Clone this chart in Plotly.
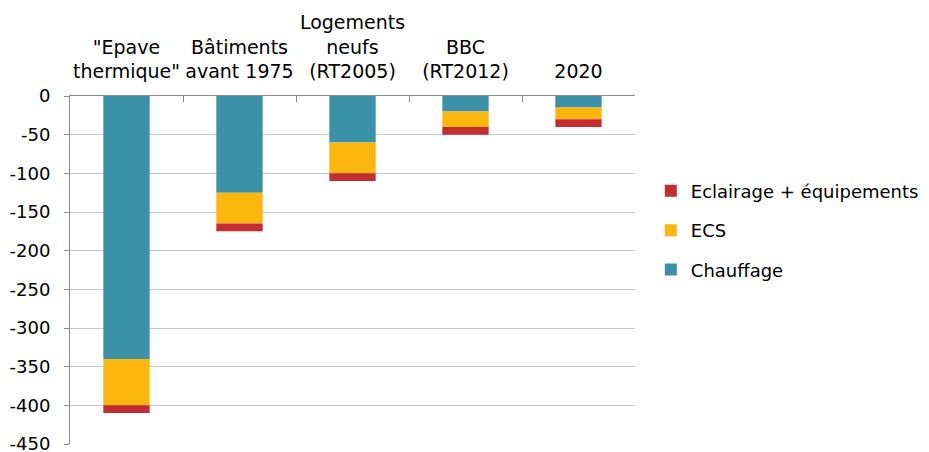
import plotly.graph_objects as go

categories = ['"Epave<br>thermique"', "Bâtiments<br>avant 1975", "Logements<br>neufs<br>(RT2005)", "BBC<br>(RT2012)", "2020"]
chauffage = [-340, -125, -60, -20, -15]
ecs = [-60, -40, -40, -20, -15]
eclairage = [-10, -10, -10, -10, -10]
ytick_vals = [0, -50, -100, -150, -200, -250, -300, -350, -400, -450]
ytick_text = [str(v) for v in ytick_vals]

FONT = "DejaVu Sans"

fig = go.Figure()
fig.add_trace(go.Bar(x=categories, y=chauffage, name="Chauffage", legendgroup="c", legendrank=3,
                     marker=dict(color="#3A91A8", line=dict(width=0))))
fig.add_trace(go.Bar(x=categories, y=ecs, name="ECS", legendgroup="e", legendrank=2,
                     marker=dict(color="#FDB60D", line=dict(width=0))))
fig.add_trace(go.Bar(x=categories, y=eclairage, name="Eclairage + équipements", legendgroup="l", legendrank=1,
                     marker=dict(color="#C42D30", line=dict(width=0))))

fig.update_layout(
    barmode="relative",
    bargap=0.59,
    width=929, height=452,
    margin=dict(l=70, r=294, t=96, b=8, autoexpand=False),
    paper_bgcolor="white", plot_bgcolor="white",
    font=dict(family=FONT, size=18, color="black"),
    showlegend=True,
    legend=dict(traceorder="grouped", x=1.028, y=0.78, xanchor="left", yanchor="top",
                font=dict(size=18), tracegroupgap=13, itemsizing="constant"),
    xaxis=dict(side="top", showline=True, linecolor="#8c8c8c", linewidth=1, automargin=False,
               ticks="inside", tickson="boundaries", ticklen=6, tickcolor="#8c8c8c",
               showgrid=False, tickfont=dict(size=19), tickangle=0, ticklabeloverflow="allow",
               ticklabelstandoff=9, fixedrange=True),
    yaxis=dict(range=[-450, 0], tickvals=ytick_vals, ticktext=ytick_text, automargin=False,
               showline=True, linecolor="#8c8c8c", linewidth=1, ticks="outside", ticklen=5,
               tickcolor="#8c8c8c", showgrid=True, gridcolor="#c6c6c6", gridwidth=1,
               zeroline=False, tickfont=dict(size=18), ticklabelstandoff=10,
               ticklabeloverflow="allow"),
)
fig.write_html("out.html", config={"displayModeBar": False},
               post_script="document.body.style.margin='0';document.body.style.padding='0';")
